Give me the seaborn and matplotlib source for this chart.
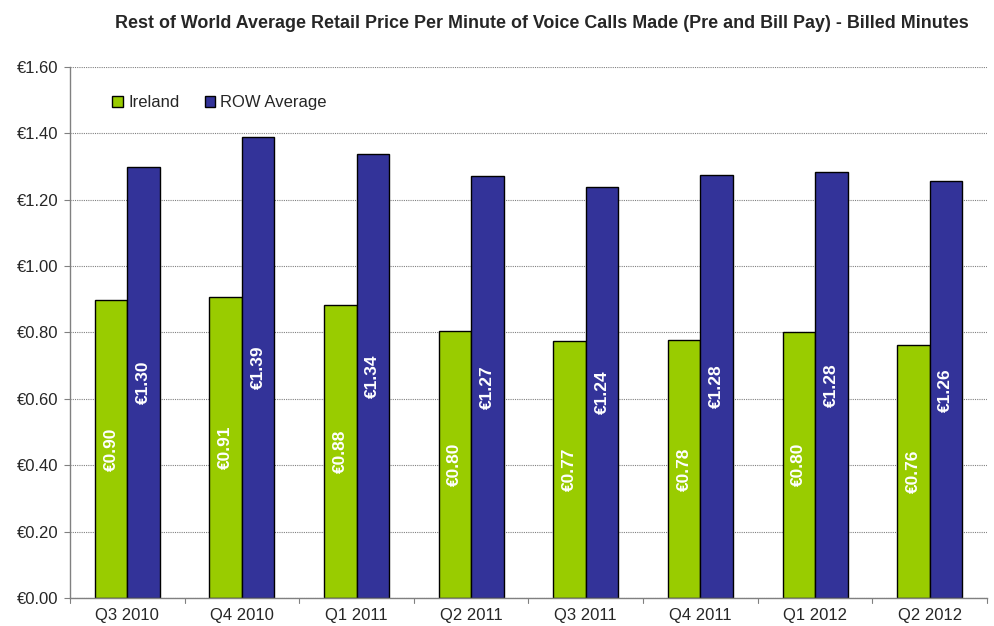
import pandas as pd
import matplotlib
matplotlib.use("Agg")
import matplotlib.pyplot as plt
import seaborn as sns

# Data
quarters = ["Q3 2010", "Q4 2010", "Q1 2011", "Q2 2011", "Q3 2011", "Q4 2011", "Q1 2012", "Q2 2012"]
ireland = [0.898, 0.907, 0.882, 0.805, 0.773, 0.778, 0.803, 0.762]
row_average = [1.298, 1.390, 1.337, 1.272, 1.239, 1.276, 1.283, 1.255]
ireland_labels = ["€0.90", "€0.91", "€0.88", "€0.80", "€0.77", "€0.78", "€0.80", "€0.76"]
row_labels = ["€1.30", "€1.39", "€1.34", "€1.27", "€1.24", "€1.28", "€1.28", "€1.26"]
series_names = ["Ireland", "ROW Average"]
colors = ["#99CC00", "#333399"]

df = pd.DataFrame({
    "quarter": quarters * 2,
    "series": [series_names[0]] * len(quarters) + [series_names[1]] * len(quarters),
    "price": ireland + row_average,
})

sns.set_theme(style="white")
plt.rcParams["font.family"] = ["Liberation Sans", "DejaVu Sans"]

fig = plt.figure(figsize=(9.94, 6.26), dpi=100)
ax = fig.add_axes([0.0704, 0.0447, 0.9225, 0.8483])

sns.barplot(
    data=df, x="quarter", y="price", hue="series",
    palette=colors, width=0.567, dodge=True,
    edgecolor="black", linewidth=1.0, saturation=1, ax=ax,
)

# value labels inside the bars
for container, labels in zip(ax.containers, [ireland_labels, row_labels]):
    ax.bar_label(container, labels=labels, label_type="center", rotation=90,
                 color="white", fontweight="bold", fontsize=12.5)

ax.set_ylim(0, 1.6)
ax.set_yticks([i * 0.2 for i in range(9)])
ax.set_yticklabels([f"€{i * 0.2:.2f}" for i in range(9)], fontsize=12)
ax.tick_params(axis="x", labelsize=12, length=0, pad=7)
ax.tick_params(axis="y", length=4, width=0.8, color="#808080", direction="out", left=True, pad=4)
ax.set_xlabel("")
ax.set_ylabel("")

# small ticks between categories
for i in range(len(quarters) + 1):
    ax.plot([i - 0.5, i - 0.5], [0, -0.014], color="#808080", lw=0.8, clip_on=False)
ax.set_xlim(-0.5, len(quarters) - 0.5)

ax.yaxis.grid(True, linestyle=(0, (1, 1)), color="#808080", linewidth=0.8)
ax.set_axisbelow(True)
for side in ["top", "right"]:
    ax.spines[side].set_visible(False)
for side in ["left", "bottom"]:
    ax.spines[side].set_color("#808080")
    ax.spines[side].set_linewidth(1.0)

leg = ax.legend(loc="upper left", bbox_to_anchor=(0.03, 0.975), ncol=2, frameon=False,
                fontsize=12, handlelength=0.65, handleheight=0.65, handletextpad=0.3,
                columnspacing=1.5)

fig.text(0.545, 0.962, "Rest of World Average Retail Price Per Minute of Voice Calls Made (Pre and Bill Pay) - Billed Minutes",
         ha="center", va="center", fontsize=12.9, fontweight="bold")

fig.savefig("out.png", dpi=100)
